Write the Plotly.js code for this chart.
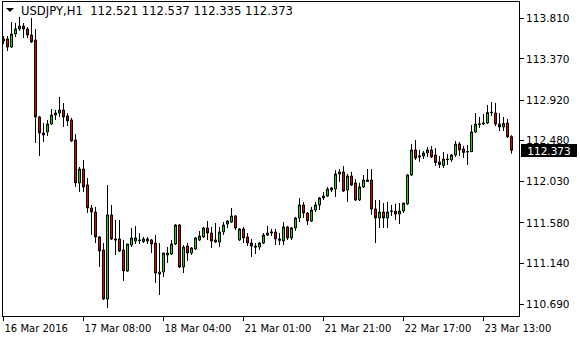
<!DOCTYPE html>
<html>
<head>
<meta charset="utf-8">
<script src="https://cdn.plot.ly/plotly-3.0.1.min.js"></script>
<style>html,body{margin:0;padding:0;background:#fff;}#chart{width:580px;height:340px;}</style>
</head>
<body>
<div id="chart"></div>
<script>
const symbol = "USDJPY";
const timeframe = "H1";
const open = [113.565,113.587,113.499,113.641,113.696,113.728,113.696,113.630,113.576,112.736,
112.561,112.572,112.659,112.757,112.779,112.812,112.747,112.703,112.485,112.016,
112.168,111.994,111.743,111.699,111.427,111.285,110.750,111.667,111.405,111.405,
111.285,111.056,111.339,111.383,111.394,111.377,111.383,111.394,111.361,111.023,
111.045,111.230,111.241,111.350,111.557,111.099,111.328,111.252,111.296,111.394,
111.427,111.525,111.470,111.394,111.372,111.481,111.568,111.590,111.656,111.394,
111.514,111.427,111.361,111.328,111.317,111.361,111.448,111.470,111.481,111.389,
111.383,111.536,111.416,111.525,111.634,111.776,111.688,111.601,111.721,111.776,
111.852,111.874,111.939,111.950,112.114,112.136,111.939,112.092,112.016,111.830,
111.972,112.032,112.048,111.732,111.634,111.699,111.634,111.705,111.710,111.677,
111.710,111.787,112.103,112.376,112.299,112.310,112.343,112.376,112.321,112.245,
112.207,112.277,112.267,112.321,112.441,112.387,112.359,112.357,112.572,112.654,
112.659,112.670,112.783,112.779,112.659,112.627,112.670,112.521];
const high = [113.619,113.619,113.772,113.761,113.827,113.761,113.717,113.816,113.696,112.747,
112.670,112.703,112.823,112.812,112.954,112.888,112.779,112.725,112.550,112.190,
112.267,112.070,111.776,111.754,111.437,111.361,111.994,111.776,111.612,111.612,
111.394,111.350,111.525,111.547,111.470,111.427,111.427,111.405,111.448,111.361,
111.252,111.317,111.394,111.568,111.568,111.339,111.361,111.317,111.427,111.492,
111.536,111.601,111.536,111.579,111.536,111.590,111.612,111.743,111.667,111.525,
111.536,111.470,111.405,111.361,111.372,111.470,111.547,111.514,111.514,111.470,
111.590,111.547,111.536,111.645,111.852,111.808,111.699,111.754,111.808,111.863,
111.917,111.972,111.972,112.157,112.168,112.201,112.114,112.136,112.059,112.016,
112.103,112.168,112.168,111.830,111.830,111.797,111.808,111.776,111.787,111.797,
111.787,112.114,112.441,112.485,112.376,112.365,112.408,112.419,112.397,112.310,
112.354,112.332,112.332,112.474,112.463,112.419,112.430,112.648,112.779,112.736,
112.768,112.867,112.899,112.888,112.779,112.736,112.714,112.537];
const low = [113.532,113.456,113.488,113.608,113.674,113.597,113.597,113.543,112.452,112.310,
112.463,112.528,112.648,112.703,112.736,112.627,112.637,112.463,111.972,111.917,
111.917,111.688,111.448,111.361,111.099,110.739,110.652,111.394,111.230,111.263,
110.947,111.045,111.317,111.350,111.350,111.361,111.350,111.252,110.925,110.794,
110.990,111.143,111.230,111.339,111.088,111.034,111.165,111.230,111.285,111.383,
111.416,111.394,111.307,111.361,111.317,111.448,111.525,111.579,111.503,111.383,
111.361,111.328,111.208,111.241,111.285,111.350,111.437,111.437,111.339,111.339,
111.339,111.394,111.394,111.492,111.590,111.634,111.557,111.590,111.699,111.721,
111.830,111.863,111.917,111.863,112.027,111.917,111.808,111.983,111.819,111.819,
111.961,112.027,111.667,111.361,111.525,111.525,111.525,111.656,111.612,111.568,
111.688,111.776,112.092,112.267,112.245,112.277,112.299,112.288,112.201,112.179,
112.179,112.212,112.245,112.299,112.310,112.288,112.212,112.354,112.561,112.616,
112.648,112.659,112.747,112.637,112.583,112.583,112.507,112.335];
const close = [113.587,113.499,113.641,113.696,113.728,113.696,113.630,113.554,112.736,112.561,
112.539,112.659,112.757,112.779,112.812,112.736,112.692,112.474,112.016,112.168,
111.972,111.743,111.699,111.427,111.274,110.750,111.667,111.405,111.394,111.274,
111.056,111.350,111.416,111.416,111.389,111.405,111.405,111.350,111.034,111.045,
111.252,111.252,111.350,111.557,111.099,111.317,111.252,111.307,111.416,111.437,
111.525,111.470,111.383,111.372,111.481,111.557,111.601,111.656,111.525,111.514,
111.416,111.361,111.328,111.317,111.361,111.448,111.470,111.481,111.405,111.405,
111.536,111.416,111.525,111.634,111.776,111.688,111.601,111.721,111.776,111.852,
111.874,111.950,111.961,112.114,112.136,111.928,112.092,111.994,111.830,111.972,
112.048,112.048,111.732,111.634,111.699,111.634,111.699,111.710,111.677,111.710,
111.797,112.103,112.376,112.288,112.310,112.343,112.376,112.299,112.239,112.217,
112.277,112.272,112.321,112.441,112.376,112.348,112.356,112.572,112.659,112.659,
112.670,112.785,112.787,112.659,112.627,112.665,112.520,112.373];
const tickIndex = [0, 20, 40, 60, 80, 100, 120];
const tickLabels = ["16 Mar 2016","17 Mar 08:00","18 Mar 04:00","21 Mar 01:00","21 Mar 21:00","22 Mar 17:00","23 Mar 13:00"];
const priceTicks = [113.810, 113.370, 112.920, 112.480, 112.030, 111.580, 111.140, 110.690];

const idx = [];
for (let i = 0; i < close.length; i++) idx.push(i);
const last = close.length - 1;
const nb = '\u00a0';

const trace = {
  type: 'candlestick',
  x: idx, open: open, high: high, low: low, close: close,
  increasing: {line: {color: '#000000', width: 1}, fillcolor: '#00e400'},
  decreasing: {line: {color: '#000000', width: 1}, fillcolor: '#e40000'},
  whiskerwidth: 0,
  hoverinfo: 'none',
  showlegend: false
};

const layout = {
  width: 580, height: 340,
  margin: {l: 3, r: 61, t: 2, b: 24, pad: 0},
  paper_bgcolor: '#ffffff', plot_bgcolor: '#ffffff',
  showlegend: false,
  boxgroupgap: 0.2857,
  font: {family: 'DejaVu Sans', size: 10, color: '#000000'},
  xaxis: {
    range: [-0.125, 128.875],
    rangeslider: {visible: false},
    showgrid: false, zeroline: false,
    showline: true, mirror: true, linecolor: '#000000', linewidth: 1,
    ticks: 'outside', ticklen: 4, tickcolor: '#000000', tickwidth: 1,
    tickmode: 'array', tickvals: tickIndex, ticktext: tickLabels,
    ticklabelposition: 'outside right', tickangle: 0, ticklabelstandoff: 3,
    tickfont: {family: 'DejaVu Sans', size: 10, color: '#000000'},
    fixedrange: true
  },
  yaxis: {
    side: 'right',
    range: [110.5646, 113.990],
    showgrid: false, zeroline: false,
    showline: true, mirror: true, linecolor: '#000000', linewidth: 1,
    ticks: 'outside', ticklen: 4, tickcolor: '#000000', tickwidth: 1,
    tickmode: 'array', tickvals: priceTicks, ticktext: priceTicks.map(v => v.toFixed(3)),
    tickfont: {family: 'DejaVu Sans', size: 10.5, color: '#000000'},
    fixedrange: true
  },
  shapes: [{
    type: 'path', xref: 'paper', yref: 'paper',
    path: 'M 0.0058 0.9809 L 0.0213 0.9809 L 0.0136 0.9682 Z',
    fillcolor: '#000000', line: {width: 0}
  }],
  annotations: [
    {
      xref: 'paper', yref: 'paper', x: 0.031, y: 0.9713,
      xanchor: 'left', yanchor: 'middle', showarrow: false,
      text: symbol + ',' + timeframe + nb + nb + [open[last], high[last], low[last], close[last]].map(v => v.toFixed(3)).join(nb),
      font: {family: 'DejaVu Sans', size: 11.6, color: '#000000'}
    },
    {
      xref: 'paper', yref: 'y', x: 1, y: close[last],
      xanchor: 'left', yanchor: 'middle', xshift: 2, showarrow: false,
      text: close[last].toFixed(3),
      bgcolor: '#000000', borderwidth: 0, borderpad: 0,
      width: 56, height: 13, align: 'center',
      font: {family: 'DejaVu Sans', size: 10.5, color: '#ffffff'}
    }
  ]
};

Plotly.newPlot('chart', [trace], layout, {staticPlot: true, displayModeBar: false});
</script>
</body>
</html>
